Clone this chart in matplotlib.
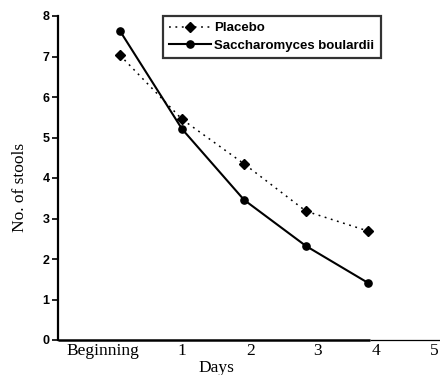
import matplotlib
matplotlib.use('Agg')
import matplotlib.pyplot as plt

days = [0, 1, 2, 3, 4]
placebo = [7.03, 5.45, 4.35, 3.18, 2.69]
saccharomyces = [7.63, 5.21, 3.46, 2.32, 1.41]
xtick_labels = ['Beginning', '1', '2', '3', '4', '5']
ytick_values = [0, 1, 2, 3, 4, 5, 6, 7, 8]
series_names = ['Placebo', 'Saccharomyces boulardii']

W, H = 440, 375
fig = plt.figure(figsize=(W / 100, H / 100), dpi=100)

ax = fig.add_axes([58 / W, 35 / H, 382 / W, 324 / H])
ax.set_xlim(-1.0, 5.16)
ax.set_ylim(0, 8)

ax.plot(days, placebo, color='black', lw=1.1, linestyle=(0, (1.2, 3.0)),
        marker='D', markersize=5, label=series_names[0], clip_on=False)
ax.plot(days, saccharomyces, color='black', lw=1.5, linestyle='-',
        marker='o', markersize=5.2, label=series_names[1], clip_on=False)

for s in ['top', 'right', 'bottom']:
    ax.spines[s].set_visible(False)
ax.spines['left'].set_linewidth(1.6)

ax.plot([-1.0, 4.03], [0, 0], color='black', lw=1.8, clip_on=False, solid_capstyle='butt')
ax.plot([4.03, 5.16], [0, 0], color='black', lw=0.9, clip_on=False, solid_capstyle='butt')

ax.set_yticks(ytick_values)
ax.set_yticklabels([str(v) for v in ytick_values], fontsize=9, fontweight='bold',
                   family='Liberation Sans')
ax.tick_params(axis='y', direction='out', length=4, width=1.2, pad=2)

xtick_pos = [-0.27, 1.0, 2.11, 3.19, 4.13, 5.06]
ax.set_xticks(xtick_pos)
ax.set_xticklabels(xtick_labels, fontsize=12.5, family='Liberation Serif')
ax.tick_params(axis='x', length=0, pad=2)

fig.text(20 / W, 1 - 187 / H, 'No. of stools', rotation=90, ha='center', va='center',
         fontsize=12.5, family='Liberation Serif')
fig.text(216 / W, 1 - 368 / H, 'Days', ha='center', va='center',
         fontsize=12.5, family='Liberation Serif')

leg = ax.legend(loc='upper left', bbox_to_anchor=((163 - 58) / 382, 1.0),
                frameon=True, fancybox=False, edgecolor='black',
                prop={'family': 'Liberation Sans', 'weight': 'bold', 'size': 9.5},
                handlelength=3.2, handletextpad=0.25, labelspacing=0.4,
                borderpad=0.45, borderaxespad=0.0)
leg.get_frame().set_linewidth(1.6)

fig.savefig('out.png', dpi=100)
